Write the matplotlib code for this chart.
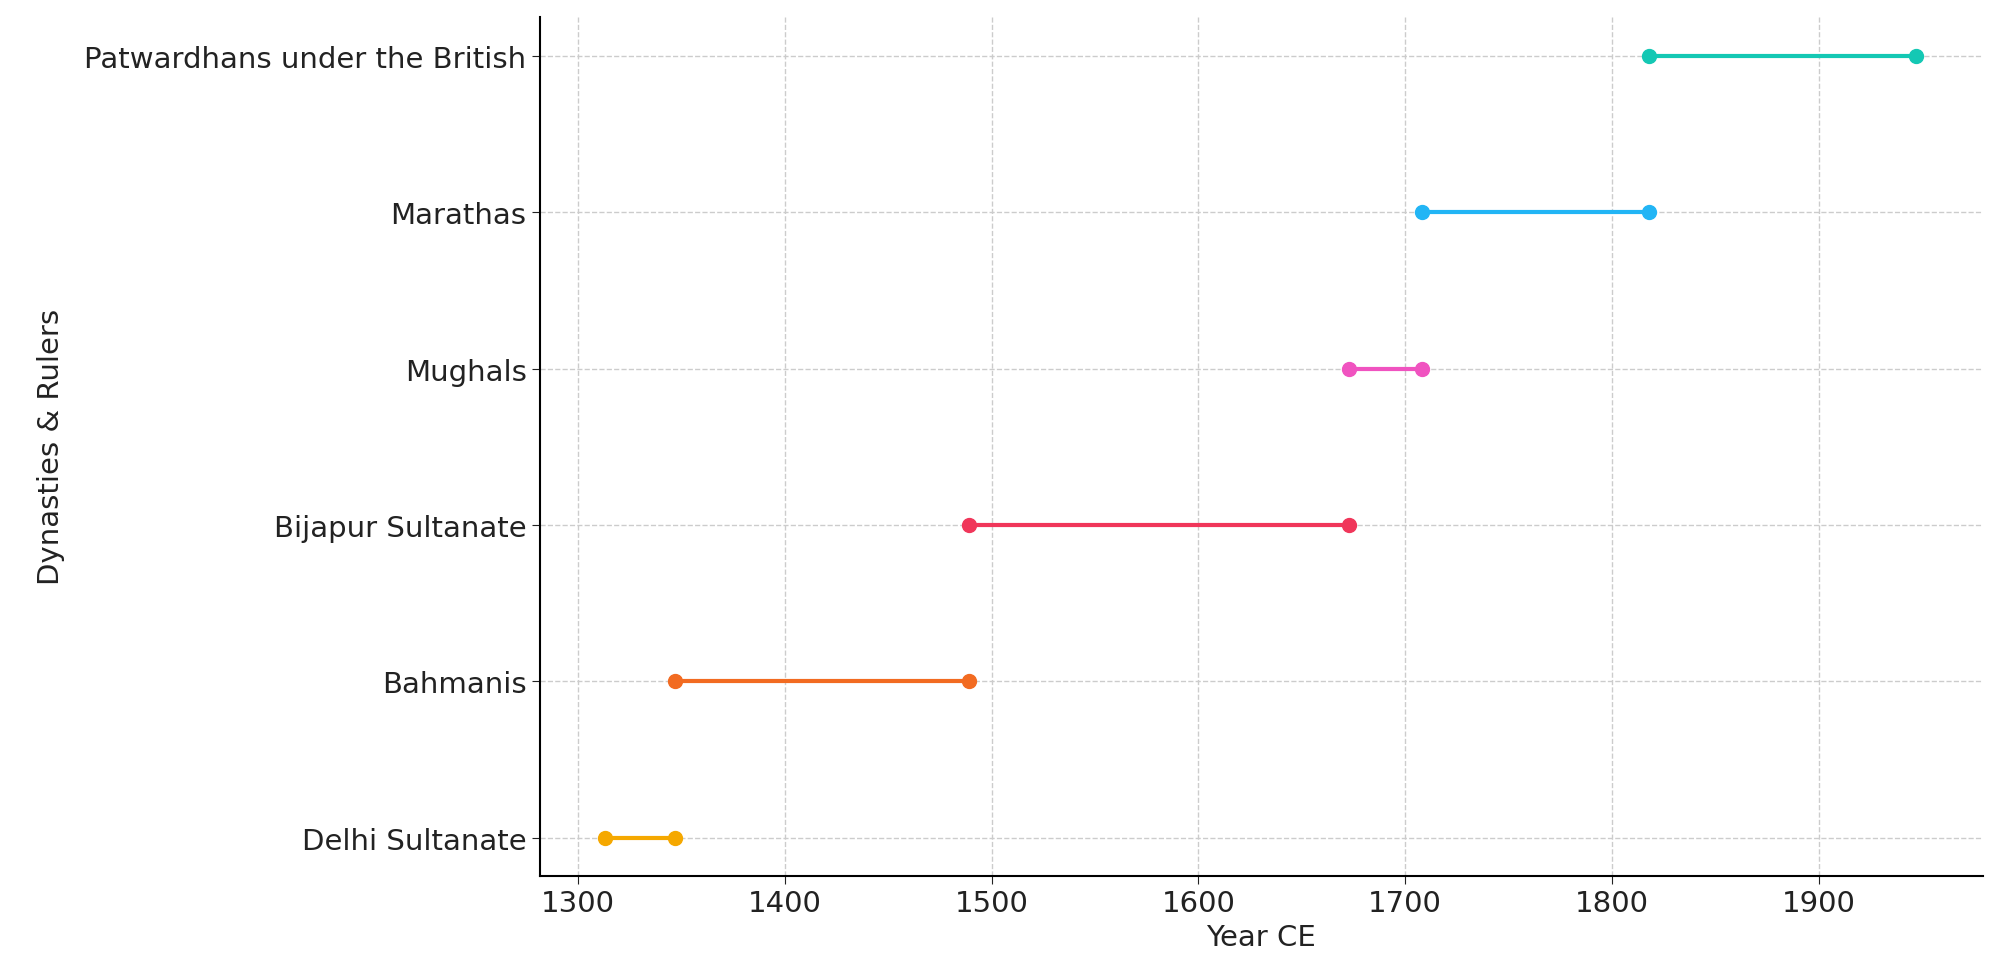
import matplotlib.pyplot as plt

dynasties = ["Delhi Sultanate", "Bahmanis", "Bijapur Sultanate", "Mughals",
             "Marathas", "Patwardhans under the British"]
start_years = [1313, 1347, 1489, 1673, 1708, 1818]
end_years = [1347, 1489, 1673, 1708, 1818, 1947]
colors = ["#F5A800", "#F26B21", "#F0365A", "#F053C0", "#22B5F5", "#14C8B4"]

fig = plt.figure(figsize=(19.99, 9.78), dpi=100)
ax = fig.add_axes([0.27, 0.103, 0.722, 0.879])

for i, (s, e, c) in enumerate(zip(start_years, end_years, colors)):
    ax.plot([s, e], [i, i], color=c, linewidth=3, marker="o", markersize=10)

ax.set_yticks(range(len(dynasties)))
ax.set_yticklabels(dynasties)
ax.set_xlim(1281.5, 1979.4)
ax.set_ylim(-0.245, 5.25)
ax.tick_params(labelsize=21, colors="#222222", length=6)
ax.set_xlabel("Year CE", fontsize=21, color="#222222")
ax.set_ylabel("Dynasties & Rulers", fontsize=21, color="#222222", labelpad=14)
ax.grid(True, linestyle="--", color="#cccccc", linewidth=1)
ax.set_axisbelow(True)
ax.spines["top"].set_visible(False)
ax.spines["right"].set_visible(False)
for sp in ("left", "bottom"):
    ax.spines[sp].set_linewidth(1.5)

fig.savefig("out.png", dpi=100)
